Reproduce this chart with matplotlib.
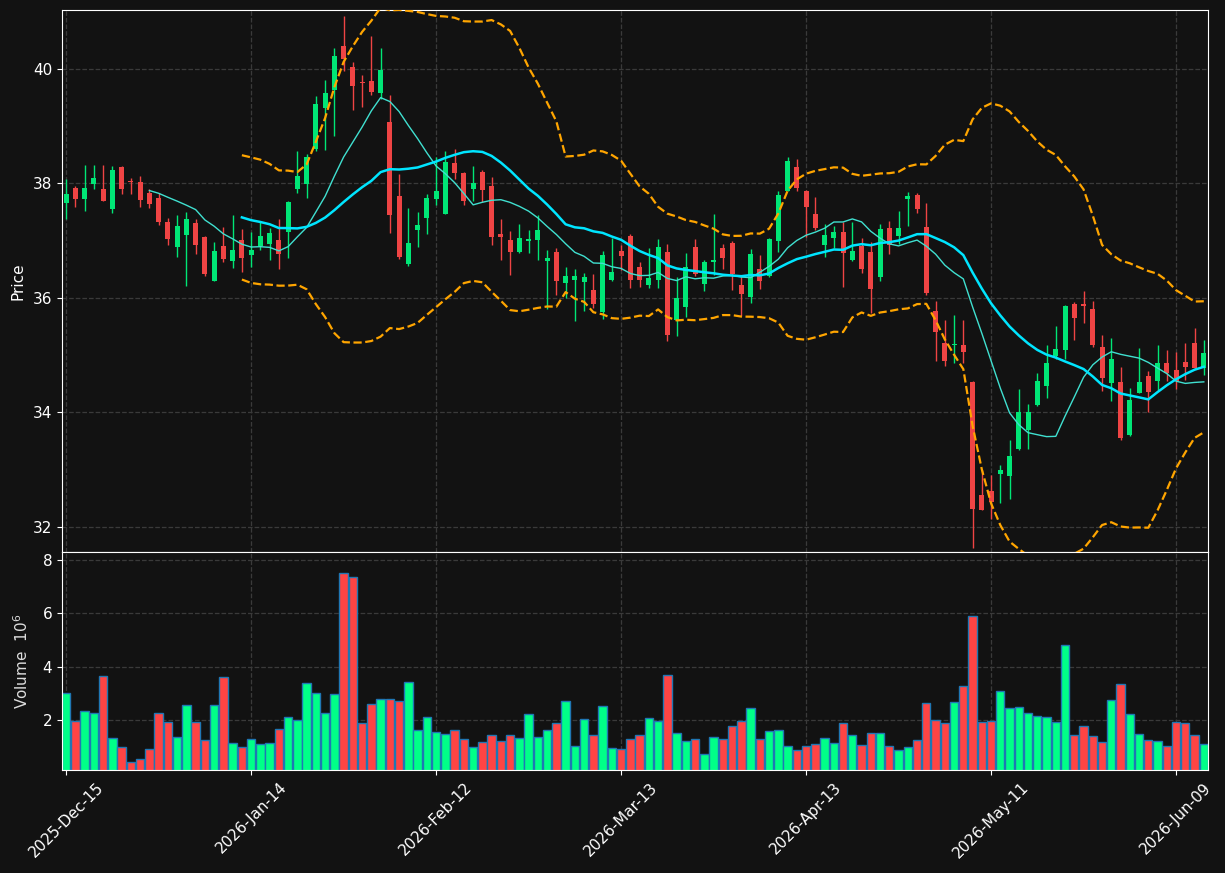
import numpy as np
import pandas as pd
import matplotlib
matplotlib.use('Agg')
import matplotlib.pyplot as plt

# trading days (US holidays skipped)
holidays = ['2025-12-25', '2026-01-01', '2026-01-19', '2026-02-16', '2026-04-03', '2026-05-25']
dates = pd.bdate_range('2025-12-15', periods=124, freq='C', holidays=holidays)

opens = [37.66, 37.92, 37.73, 37.99, 37.90, 37.56, 38.28, 38.04, 38.02, 37.83,
         37.74, 37.32, 36.89, 37.10, 37.31, 37.06, 36.30, 36.91, 36.65, 37.01,
         36.75, 36.91, 36.95, 37.01, 37.16, 37.91, 37.99, 38.61, 39.32, 39.64,
         40.40, 40.03, 39.78, 39.79, 39.58, 39.08, 37.78, 36.60, 37.19, 37.39,
         37.73, 37.47, 38.35, 38.18, 37.91, 38.20, 37.95, 37.12, 37.01, 36.81,
         37.00, 37.02, 36.65, 36.81, 36.26, 36.32, 36.27, 36.14, 35.75, 36.31,
         36.82, 37.08, 36.54, 36.23, 36.32, 36.81, 35.61, 35.84, 36.89, 36.24,
         36.62, 36.88, 36.96, 36.23, 36.01, 36.51, 36.38, 37.00, 37.87, 38.28,
         37.87, 37.47, 36.92, 37.04, 37.15, 36.66, 36.91, 36.80, 36.37, 37.22,
         37.09, 37.72, 37.80, 37.24, 35.77, 35.22, 35.17, 35.18, 34.53, 32.55,
         32.62, 32.92, 32.88, 33.36, 33.69, 34.12, 34.46, 34.99, 35.09, 35.89,
         35.90, 35.80, 35.15, 34.52, 34.53, 33.61, 34.34, 34.63, 34.54, 34.86,
         34.74, 34.88, 35.21, 34.77]
highs = [38.08, 37.96, 38.32, 38.32, 38.33, 38.30, 38.30, 38.09, 38.13, 37.90,
         37.84, 37.39, 37.44, 37.50, 37.37, 37.08, 36.97, 37.24, 37.44, 37.21,
         37.16, 37.32, 37.23, 37.37, 37.69, 38.56, 38.52, 39.52, 39.80, 40.36,
         40.92, 40.13, 39.90, 40.57, 40.37, 39.55, 38.17, 37.57, 37.50, 37.81,
         38.46, 38.57, 38.61, 38.20, 38.31, 38.24, 38.12, 37.38, 37.17, 37.30,
         37.18, 37.44, 36.83, 36.88, 36.54, 36.50, 36.43, 36.42, 36.82, 37.05,
         36.92, 37.12, 36.63, 36.88, 37.03, 36.94, 36.37, 36.78, 37.03, 36.67,
         37.46, 36.94, 36.99, 36.38, 36.85, 36.75, 37.04, 37.87, 38.46, 38.42,
         37.89, 37.76, 37.30, 37.26, 37.33, 37.32, 37.04, 36.98, 37.30, 37.35,
         37.51, 37.85, 37.84, 37.65, 35.94, 35.61, 35.70, 35.61, 34.55, 33.00,
         32.91, 33.08, 33.51, 34.41, 34.15, 34.68, 35.18, 35.51, 35.87, 35.93,
         36.12, 35.94, 35.36, 35.30, 34.80, 34.42, 35.12, 34.72, 35.18, 35.09,
         35.06, 35.22, 35.48, 35.27]
lows = [37.37, 37.59, 37.51, 37.90, 37.69, 37.49, 37.82, 37.81, 37.58, 37.57,
        37.28, 36.93, 36.72, 36.20, 36.76, 36.39, 36.29, 36.62, 36.53, 36.45,
        36.54, 36.84, 36.67, 36.50, 36.69, 37.84, 37.74, 38.56, 38.59, 38.83,
        39.96, 39.28, 39.33, 39.55, 39.48, 37.13, 36.68, 36.55, 36.89, 37.11,
        37.63, 37.46, 38.07, 37.63, 37.70, 37.68, 36.92, 36.67, 36.40, 36.79,
        36.78, 36.66, 35.81, 36.05, 36.00, 35.60, 35.77, 35.83, 35.63, 36.30,
        36.49, 36.17, 36.19, 36.17, 36.17, 35.25, 35.34, 35.67, 36.38, 36.12,
        36.40, 36.50, 36.13, 35.68, 35.91, 36.16, 36.37, 36.80, 37.86, 37.87,
        37.07, 37.18, 36.71, 36.88, 36.19, 36.65, 36.43, 35.74, 36.30, 36.77,
        36.94, 37.26, 37.49, 36.05, 34.89, 34.81, 34.86, 34.86, 31.63, 32.29,
        32.14, 32.41, 32.48, 33.35, 33.36, 34.11, 34.25, 34.93, 34.93, 35.26,
        35.57, 35.14, 34.38, 34.20, 33.52, 33.58, 34.33, 34.01, 34.39, 34.54,
        34.41, 34.57, 34.75, 34.66]
closes = [37.81, 37.73, 37.92, 38.09, 37.70, 38.23, 37.91, 38.02, 37.71, 37.64,
          37.33, 37.03, 37.25, 37.38, 36.93, 36.42, 36.82, 36.68, 36.84, 36.70,
          36.84, 37.09, 37.13, 36.77, 37.67, 38.13, 38.46, 39.39, 39.58, 40.22,
          40.18, 39.71, 39.75, 39.60, 39.98, 37.44, 36.71, 36.96, 37.28, 37.74,
          37.87, 38.37, 38.19, 37.70, 38.00, 37.89, 37.06, 37.06, 36.81, 37.05,
          37.03, 37.19, 36.70, 36.29, 36.38, 36.39, 36.37, 35.89, 36.75, 36.45,
          36.74, 36.31, 36.32, 36.34, 36.89, 35.35, 35.99, 36.54, 36.41, 36.63,
          36.67, 36.69, 36.42, 36.06, 36.77, 36.29, 37.03, 37.80, 38.39, 37.92,
          37.58, 37.23, 37.10, 37.15, 36.78, 36.82, 36.51, 36.15, 37.20, 36.92,
          37.23, 37.78, 37.56, 36.08, 35.40, 34.89, 35.20, 35.06, 32.31, 32.30,
          32.43, 33.00, 33.24, 34.01, 34.01, 34.54, 34.86, 35.11, 35.85, 35.65,
          35.86, 35.18, 34.60, 34.93, 33.56, 34.21, 34.53, 34.36, 34.86, 34.68,
          34.54, 34.79, 34.77, 35.03]
# volume in millions
volumes = [3.02, 1.97, 2.34, 2.27, 3.65, 1.33, 0.99, 0.43, 0.54, 0.92,
           2.27, 1.93, 1.37, 2.57, 1.93, 1.25, 2.57, 3.62, 1.14, 0.99,
           1.29, 1.10, 1.14, 1.67, 2.12, 2.00, 3.39, 3.02, 2.27, 2.98,
           7.52, 7.37, 1.89, 2.60, 2.79, 2.79, 2.72, 3.43, 1.63, 2.12,
           1.55, 1.48, 1.63, 1.29, 0.99, 1.18, 1.44, 1.22, 1.44, 1.33,
           2.23, 1.37, 1.63, 1.89, 2.72, 1.03, 2.04, 1.44, 2.53, 0.95,
           0.92, 1.29, 1.44, 2.08, 1.97, 3.69, 1.52, 1.22, 1.29, 0.73,
           1.37, 1.29, 1.78, 1.97, 2.45, 1.29, 1.59, 1.63, 1.03, 0.88,
           1.03, 1.10, 1.33, 1.14, 1.89, 1.44, 1.07, 1.52, 1.52, 1.03,
           0.88, 0.99, 1.25, 2.64, 2.00, 1.89, 2.68, 3.28, 5.91, 1.93,
           1.97, 3.09, 2.45, 2.49, 2.27, 2.15, 2.12, 1.93, 4.82, 1.44,
           1.78, 1.40, 1.18, 2.75, 3.35, 2.23, 1.48, 1.25, 1.22, 1.03,
           1.93, 1.89, 1.44, 1.10]

df = pd.DataFrame({'Open': opens, 'High': highs, 'Low': lows,
                   'Close': closes, 'Volume': volumes}, index=dates)
ma10 = df['Close'].rolling(10).mean()
ma20 = df['Close'].rolling(20).mean()
sd20 = df['Close'].rolling(20).std()
upper = ma20 + 2 * sd20
lower = ma20 - 2 * sd20

bg = '#121212'
up_c, dn_c = '#00e676', '#ef4444'
vup_c, vdn_c = '#00ff88', '#ff4444'

fig = plt.figure(figsize=(12.25, 8.73), dpi=100, facecolor=bg)
ax = fig.add_axes([0.0506, 0.3677, 0.9355, 0.6208], facecolor=bg)
axv = fig.add_axes([0.0506, 0.118, 0.9355, 0.2497], facecolor=bg, sharex=ax)

x = np.arange(len(df))
isup = df['Close'] >= df['Open']
colors = np.where(isup, up_c, dn_c)
vcolors = np.where(isup, vup_c, vdn_c)

# wicks and bodies
ax.vlines(x, df['Low'], df['High'], colors=colors, linewidth=1, zorder=2)
body_lo = np.minimum(df['Open'], df['Close'])
body_h = np.maximum(np.abs(df['Close'] - df['Open']), 0.02)
ax.bar(x, body_h, bottom=body_lo, width=0.55, color=colors, linewidth=0, zorder=3)

ax.plot(x, ma10, color='#40e0d0', linewidth=1, zorder=4)
ax.plot(x, ma20, color='#00e5ff', linewidth=1.8, zorder=4)
ax.plot(x, upper, color='orange', linestyle='--', linewidth=1.6, zorder=4)
ax.plot(x, lower, color='orange', linestyle='--', linewidth=1.6, zorder=4)

axv.bar(x, df['Volume'], width=0.9, color=vcolors, edgecolor='#1f77b4', linewidth=1)

ax.set_xlim(-0.45, 123.45)
ax.set_ylim(31.56, 41.03)
axv.set_ylim(0.135, 8.3)
ax.set_yticks([32, 34, 36, 38, 40])
axv.set_yticks([2, 4, 6, 8])

ticks = list(range(0, 124, 20))
axv.set_xticks(ticks)
axv.set_xticklabels([dates[i].strftime('%Y-%b-%d') for i in ticks], rotation=45)
ax.tick_params(axis='x', labelbottom=False, length=0)

for a in (ax, axv):
    for s in a.spines.values():
        s.set_color('white')
    a.tick_params(colors='white', labelsize=11)
    a.grid(True, color='#3a3a3a', linestyle='--', linewidth=0.9)
    a.set_axisbelow(True)

ax.set_ylabel('Price', color='white', fontsize=11)
axv.set_ylabel(r'Volume  $10^{6}$', color='#dddddd', fontsize=11)
ax.yaxis.set_label_coords(-0.032, 0.5)
axv.yaxis.set_label_coords(-0.027, 0.5)

fig.savefig('out.png', facecolor=bg)
